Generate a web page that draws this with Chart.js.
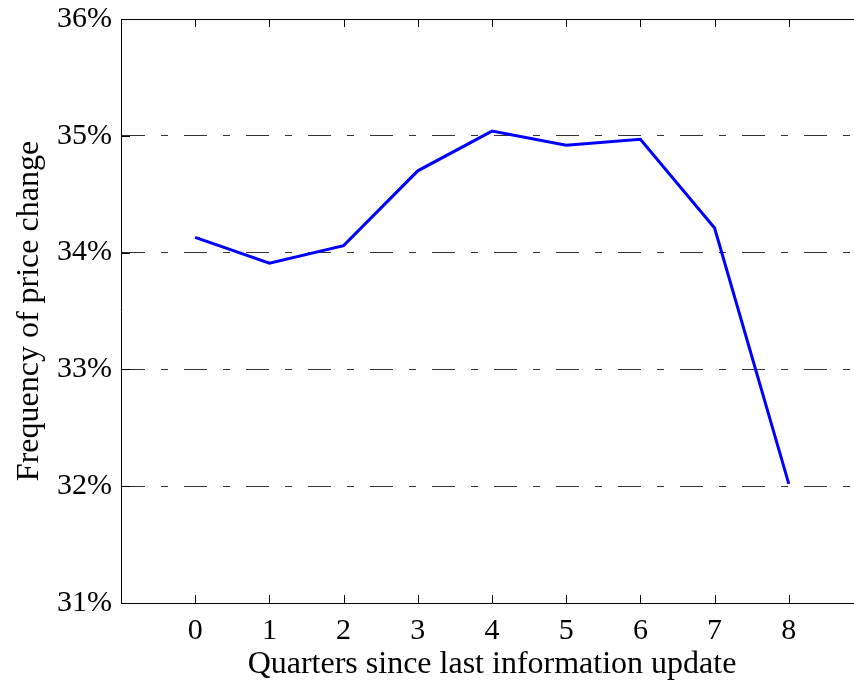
<!DOCTYPE html>
<html>
<head>
<meta charset="utf-8">
<script src="https://cdn.jsdelivr.net/npm/chart.js@4"></script>
<style>
  html, body { margin: 0; padding: 0; background: #fff; overflow: hidden; }
  #caixa { width: 864px; height: 687px; }
</style>
</head>
<body>
<div id="caixa"><canvas id="grafico"></canvas></div>
<script>
// dados
const trimestres = [0, 1, 2, 3, 4, 5, 6, 7, 8]
const frequencia = [34.13, 33.91, 34.06, 34.70, 35.04, 34.92, 34.97, 34.21, 32.02]
const ticksY = [31, 32, 33, 34, 35, 36]

const fonte = 'Liberation Serif, Times New Roman, serif'

// ticks pra dentro + borda de cima, estilo matlab
const tracosInternos = {
    id: 'tracosInternos',
    afterDraw(chart) {
        const ctx = chart.ctx
        const area = chart.chartArea
        const x = chart.scales.x
        const y = chart.scales.y
        ctx.save()
        ctx.strokeStyle = '#000'
        ctx.lineWidth = 1
        ctx.beginPath()
        ctx.moveTo(area.left, area.top + 0.5)
        ctx.lineTo(area.right, area.top + 0.5)
        trimestres.forEach(t => {
            const px = Math.round(x.getPixelForValue(t)) + 0.5
            ctx.moveTo(px, area.bottom)
            ctx.lineTo(px, area.bottom - 8)
            ctx.moveTo(px, area.top)
            ctx.lineTo(px, area.top + 8)
        })
        ticksY.forEach(v => {
            const py = Math.round(y.getPixelForValue(v)) + 0.5
            ctx.moveTo(area.left, py)
            ctx.lineTo(area.left + 9, py)
        })
        ctx.stroke()
        ctx.restore()
    }
}

document.addEventListener('DOMContentLoaded', () => {
    const ctxGrafico = document.getElementById('grafico')

    new Chart(ctxGrafico, {
        type: 'line',
        data: {
            datasets: [{
                label: 'Frequency of price change',
                data: trimestres.map((t, i) => ({ x: t, y: frequencia[i] })),
                borderColor: '#0000FF',
                borderWidth: 3,
                pointRadius: 0,
                tension: 0,
                fill: false
            }]
        },
        options: {
            responsive: true,
            maintainAspectRatio: false,
            animation: false,
            layout: {
                padding: { top: 19, right: 1, left: 0, bottom: 0 }
            },
            plugins: {
                legend: { display: false },
                tooltip: { enabled: false }
            },
            scales: {
                x: {
                    type: 'linear',
                    min: -1,
                    max: 9,
                    afterFit: (scale) => {
                        scale.height = 84
                        scale.paddingLeft = 0
                        scale.paddingRight = 0
                    },
                    afterBuildTicks: (scale) => {
                        scale.ticks = trimestres.map(v => ({ value: v }))
                    },
                    grid: { display: false, drawTicks: false },
                    border: { display: true, color: '#000', width: 1 },
                    ticks: {
                        color: '#000',
                        padding: 10,
                        maxRotation: 0,
                        font: { family: fonte, size: 30 },
                        callback: (v) => String(v)
                    },
                    title: {
                        display: true,
                        text: 'Quarters since last information update',
                        color: '#000',
                        font: { family: fonte, size: 32 },
                        padding: { top: 0, bottom: 3 }
                    }
                },
                y: {
                    min: 31,
                    max: 36,
                    afterFit: (scale) => {
                        scale.width = 121
                        scale.paddingTop = 0
                        scale.paddingBottom = 0
                    },
                    afterBuildTicks: (scale) => {
                        scale.ticks = ticksY.map(v => ({ value: v }))
                    },
                    grid: {
                        drawTicks: false,
                        lineWidth: 1,
                        color: (c) => (c.tick && c.tick.value > 31 && c.tick.value < 36) ? '#333' : 'rgba(0,0,0,0)'
                    },
                    border: { display: true, color: '#000', width: 1, dash: [23, 16, 7, 16] },
                    ticks: {
                        color: '#000',
                        padding: 9,
                        font: { family: fonte, size: 30 },
                        callback: (v) => v + '%'
                    },
                    title: {
                        display: true,
                        text: 'Frequency of price change',
                        color: '#000',
                        font: { family: fonte, size: 32 },
                        padding: { top: 10, bottom: 0 }
                    }
                }
            }
        },
        plugins: [tracosInternos]
    })
})
</script>
</body>
</html>
